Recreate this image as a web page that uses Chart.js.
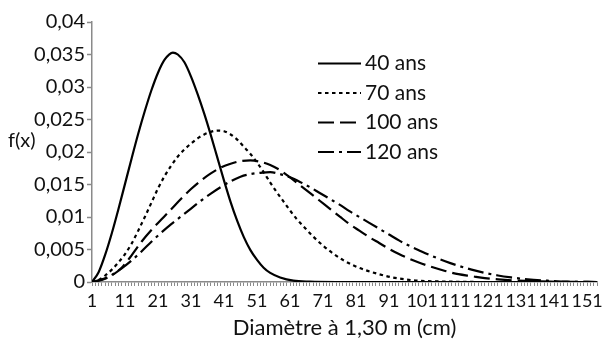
<!DOCTYPE html>
<html>
<head>
<meta charset="utf-8">
<script src="https://cdn.jsdelivr.net/npm/chart.js@4"></script>
<style>
  html, body { margin: 0; padding: 0; background: #ffffff; }
  #c { display: block; }
</style>
</head>
<body>
<canvas id="c" width="606" height="347"></canvas>
<script>
// Series names
const seriesLabels = ['40 ans', '70 ans', '100 ans', '120 ans'];

// Diameter (cm) / density pairs for each stand age
const diam40 = [1, 3, 5, 7, 9, 11, 13, 15, 17, 19, 21, 23, 25.5, 27, 29, 31, 33, 35, 37, 39, 41, 43, 45, 47, 49, 51, 53, 55, 58, 62, 67, 75, 154];
const dens40 = [0, 0.0015, 0.0042, 0.0075, 0.0112, 0.0151, 0.0190, 0.0228, 0.0263, 0.0295, 0.0322, 0.0342, 0.0353, 0.0350, 0.0338, 0.0316, 0.0289, 0.0259, 0.0226, 0.0191, 0.0156, 0.0123, 0.0094, 0.0069, 0.0049, 0.0034, 0.0022, 0.0014, 0.0007, 0.0002, 0.00005, 0, 0];

const diam70 = [1, 3, 5, 7, 9, 11, 13, 15, 17, 19, 21, 23, 25, 27, 29, 31, 33, 35, 37, 39, 41, 43, 45, 47, 49, 51, 53, 55, 57, 59, 61, 63, 65, 68, 71, 74, 77, 80, 84, 88, 92, 96, 100, 110, 120, 154];
const dens70 = [0, 0.0003, 0.0010, 0.0019, 0.0030, 0.0043, 0.0059, 0.0079, 0.0100, 0.0122, 0.0144, 0.0163, 0.0179, 0.0193, 0.0204, 0.0213, 0.0221, 0.0227, 0.0231, 0.0233, 0.0232, 0.0227, 0.0219, 0.0208, 0.0197, 0.0184, 0.0169, 0.0153, 0.0138, 0.0124, 0.0110, 0.0097, 0.0086, 0.0070, 0.0056, 0.0044, 0.0034, 0.0026, 0.0018, 0.0012, 0.0007, 0.0004, 0.0002, 0.00005, 0, 0];

const diam100 = [1, 3, 5, 7, 10, 13, 16, 19, 22, 25, 28, 31, 34, 37, 40, 43, 46, 49, 52, 55, 58, 61, 64, 67, 70, 73, 76, 79, 82, 85, 88, 91, 94, 97, 100, 104, 108, 112, 116, 120, 124, 130, 140, 154];
const dens100 = [0, 0.0002, 0.0005, 0.0010, 0.0022, 0.0041, 0.0062, 0.0080, 0.0096, 0.0112, 0.0128, 0.0143, 0.0156, 0.0167, 0.0176, 0.0182, 0.0186, 0.0187, 0.0185, 0.0180, 0.0172, 0.0161, 0.0149, 0.0137, 0.0125, 0.0113, 0.0101, 0.0089, 0.0079, 0.0069, 0.0060, 0.0051, 0.0043, 0.0036, 0.0030, 0.0023, 0.0017, 0.0012, 0.0009, 0.0006, 0.0004, 0.0002, 0.00005, 0];

const diam120 = [1, 4, 7, 10, 13, 16, 19, 22, 25, 28, 31, 34, 37, 40, 43, 46, 49, 52, 55, 58, 61, 64, 67, 70, 73, 76, 79, 82, 85, 88, 91, 94, 97, 100, 104, 108, 112, 116, 120, 124, 128, 133, 139, 145, 154];
const dens120 = [0, 0.0004, 0.0011, 0.0021, 0.0033, 0.0047, 0.0062, 0.0076, 0.0089, 0.0101, 0.0113, 0.0125, 0.0136, 0.0146, 0.0155, 0.0162, 0.0166, 0.0168, 0.0169, 0.0166, 0.0161, 0.0154, 0.0146, 0.0137, 0.0128, 0.0119, 0.0109, 0.0100, 0.0091, 0.0082, 0.0073, 0.0064, 0.0056, 0.0049, 0.0040, 0.0032, 0.0025, 0.0019, 0.0014, 0.0010, 0.0007, 0.0004, 0.0002, 0.00005, 0];

// Labelled diameters on the horizontal axis
const xTickLabels = [1, 11, 21, 31, 41, 51, 61, 71, 81, 91, 101, 111, 121, 131, 141, 151];

const FONT = "Lato, 'Open Sans', 'Liberation Sans', sans-serif";
const AXIS_GREY = '#8a8a8a';
const TEXT = '#111111';

const toPoints = (xs, ys) => xs.map((x, i) => ({ x: x, y: ys[i] }));

const lineStyle = (label, points, dash) => ({
  label: label,
  data: points,
  borderColor: '#000000',
  borderWidth: 2.2,
  borderDash: dash,
  borderCapStyle: 'butt',
  pointRadius: 0,
  pointHoverRadius: 0,
  fill: false,
  cubicInterpolationMode: 'monotone'
});

// Line-sample legend drawn inside the plot, plus the horizontal "f(x)" axis caption
const lineLegend = {
  id: 'lineLegend',
  afterDatasetsDraw(chart, args, opts) {
    const ctx = chart.ctx;
    ctx.save();
    chart.data.datasets.forEach((ds, i) => {
      const y = opts.top + i * opts.rowGap;
      ctx.beginPath();
      ctx.setLineDash(ds.borderDash || []);
      ctx.lineCap = 'butt';
      ctx.lineWidth = ds.borderWidth;
      ctx.strokeStyle = ds.borderColor;
      ctx.moveTo(opts.left, y);
      ctx.lineTo(opts.left + opts.sample, y);
      ctx.stroke();
      ctx.setLineDash([]);
      ctx.fillStyle = TEXT;
      ctx.font = opts.font;
      ctx.textAlign = 'left';
      ctx.textBaseline = 'middle';
      ctx.fillText(ds.label, opts.left + opts.sample + opts.gap, y);
    });
    ctx.font = opts.captionFont;
    ctx.fillStyle = TEXT;
    ctx.textAlign = 'left';
    ctx.textBaseline = 'middle';
    ctx.fillText(opts.yCaption, opts.yCaptionX, opts.yCaptionY);
    ctx.restore();
  }
};

const fmtComma = v => {
  const n = Number(Number(v).toFixed(4));
  return String(n).replace('.', ',');
};

new Chart(document.getElementById('c'), {
  type: 'line',
  data: {
    datasets: [
      lineStyle(seriesLabels[0], toPoints(diam40, dens40), []),
      lineStyle(seriesLabels[1], toPoints(diam70, dens70), [3.5, 3.5]),
      lineStyle(seriesLabels[2], toPoints(diam100, dens100), [16, 6]),
      lineStyle(seriesLabels[3], toPoints(diam120, dens120), [16, 5, 3, 5])
    ]
  },
  options: {
    responsive: false,
    animation: false,
    devicePixelRatio: 1,
    layout: { padding: { top: 22, right: 9, left: 0, bottom: 0 } },
    plugins: {
      legend: { display: false },
      tooltip: { enabled: false },
      lineLegend: {
        left: 318, sample: 43, gap: 4, top: 63.5, rowGap: 29.5,
        font: "21px " + FONT,
        captionFont: "20px " + FONT,
        yCaption: 'f(x)', yCaptionX: 8, yCaptionY: 141
      }
    },
    scales: {
      x: {
        type: 'linear',
        min: 1,
        max: 154,
        afterFit: s => { s.height = 65; },
        border: { display: true, color: AXIS_GREY, width: 1.5 },
        grid: { drawOnChartArea: false, drawTicks: true, tickLength: 4, tickColor: AXIS_GREY, tickWidth: 1 },
        ticks: {
          stepSize: 1,
          autoSkip: false,
          maxRotation: 0,
          minRotation: 0,
          padding: 4,
          color: TEXT,
          font: { family: FONT, size: 18 },
          callback: v => (xTickLabels.includes(v) ? String(v) : '')
        },
        title: {
          display: true,
          text: 'Diamètre à 1,30 m (cm)',
          color: TEXT,
          font: { family: FONT, size: 22 },
          padding: { top: 0, bottom: 6 }
        }
      },
      y: {
        min: 0,
        max: 0.04,
        afterFit: s => { s.width = 92; },
        border: { display: true, color: AXIS_GREY, width: 1.5 },
        grid: { drawOnChartArea: false, drawTicks: true, tickLength: 5, tickColor: AXIS_GREY, tickWidth: 1.5 },
        ticks: {
          stepSize: 0.005,
          padding: 2,
          color: TEXT,
          font: { family: FONT, size: 20 },
          callback: v => fmtComma(v)
        }
      }
    }
  },
  plugins: [lineLegend]
});
</script>
</body>
</html>
